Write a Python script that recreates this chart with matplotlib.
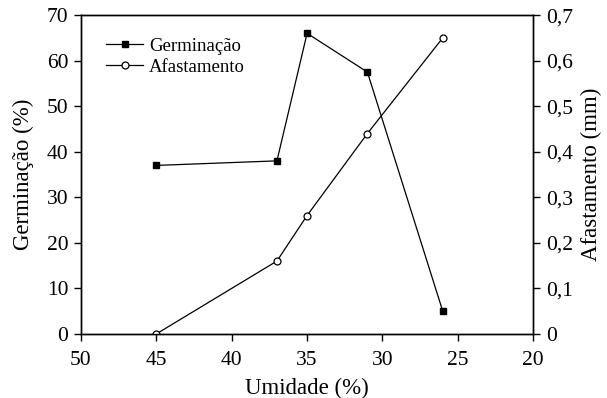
import matplotlib.pyplot as plt
from matplotlib.ticker import FuncFormatter

plt.rcParams['font.family'] = ['Liberation Serif', 'DejaVu Serif']

umidade = [45, 37, 35, 31, 26]
germinacao = [37, 38, 66, 57.5, 5]
afastamento = [0, 0.16, 0.26, 0.44, 0.65]

fig = plt.figure(figsize=(6.07, 3.98), dpi=100)
ax = fig.add_axes([0.1334, 0.161, 0.745, 0.801])
ax2 = ax.twinx()

l1, = ax.plot(umidade, germinacao, '-', color='black', lw=0.9,
              marker='s', ms=4.5, mfc='black', label='Germinação')
l2, = ax2.plot(umidade, afastamento, '-', color='black', lw=0.9,
               marker='o', ms=5, mfc='white', mew=0.9, label='Afastamento')

ax.set_xlim(50, 20)
ax.set_ylim(0, 70)
ax2.set_ylim(0, 0.7)
ax.set_xticks([50, 45, 40, 35, 30, 25, 20])
ax.set_yticks(range(0, 71, 10))
ax2.set_yticks([0, 0.1, 0.2, 0.3, 0.4, 0.5, 0.6, 0.7])
ax2.yaxis.set_major_formatter(FuncFormatter(
    lambda v, p: '0' if v == 0 else f'{v:.1f}'.replace('.', ',')))

ax.set_xlabel('Umidade (%)', fontsize=16.5, labelpad=6)
ax.set_ylabel('Germinação (%)', fontsize=16.5, labelpad=9)
ax2.set_ylabel('Afastamento (mm)', fontsize=16.5, labelpad=6)
for a in (ax, ax2):
    a.tick_params(labelsize=15.5, length=5, width=1, pad=4)
    for s in a.spines.values():
        s.set_linewidth(1)
ax.tick_params(axis='x', pad=7)

ax.legend(handles=[l1, l2], loc='upper left', bbox_to_anchor=(0.03, 0.965),
          frameon=False, fontsize=13.5, handlelength=2.0, handletextpad=0.3,
          labelspacing=0.2, borderaxespad=0.2)

fig.savefig('out.png', dpi=100)
